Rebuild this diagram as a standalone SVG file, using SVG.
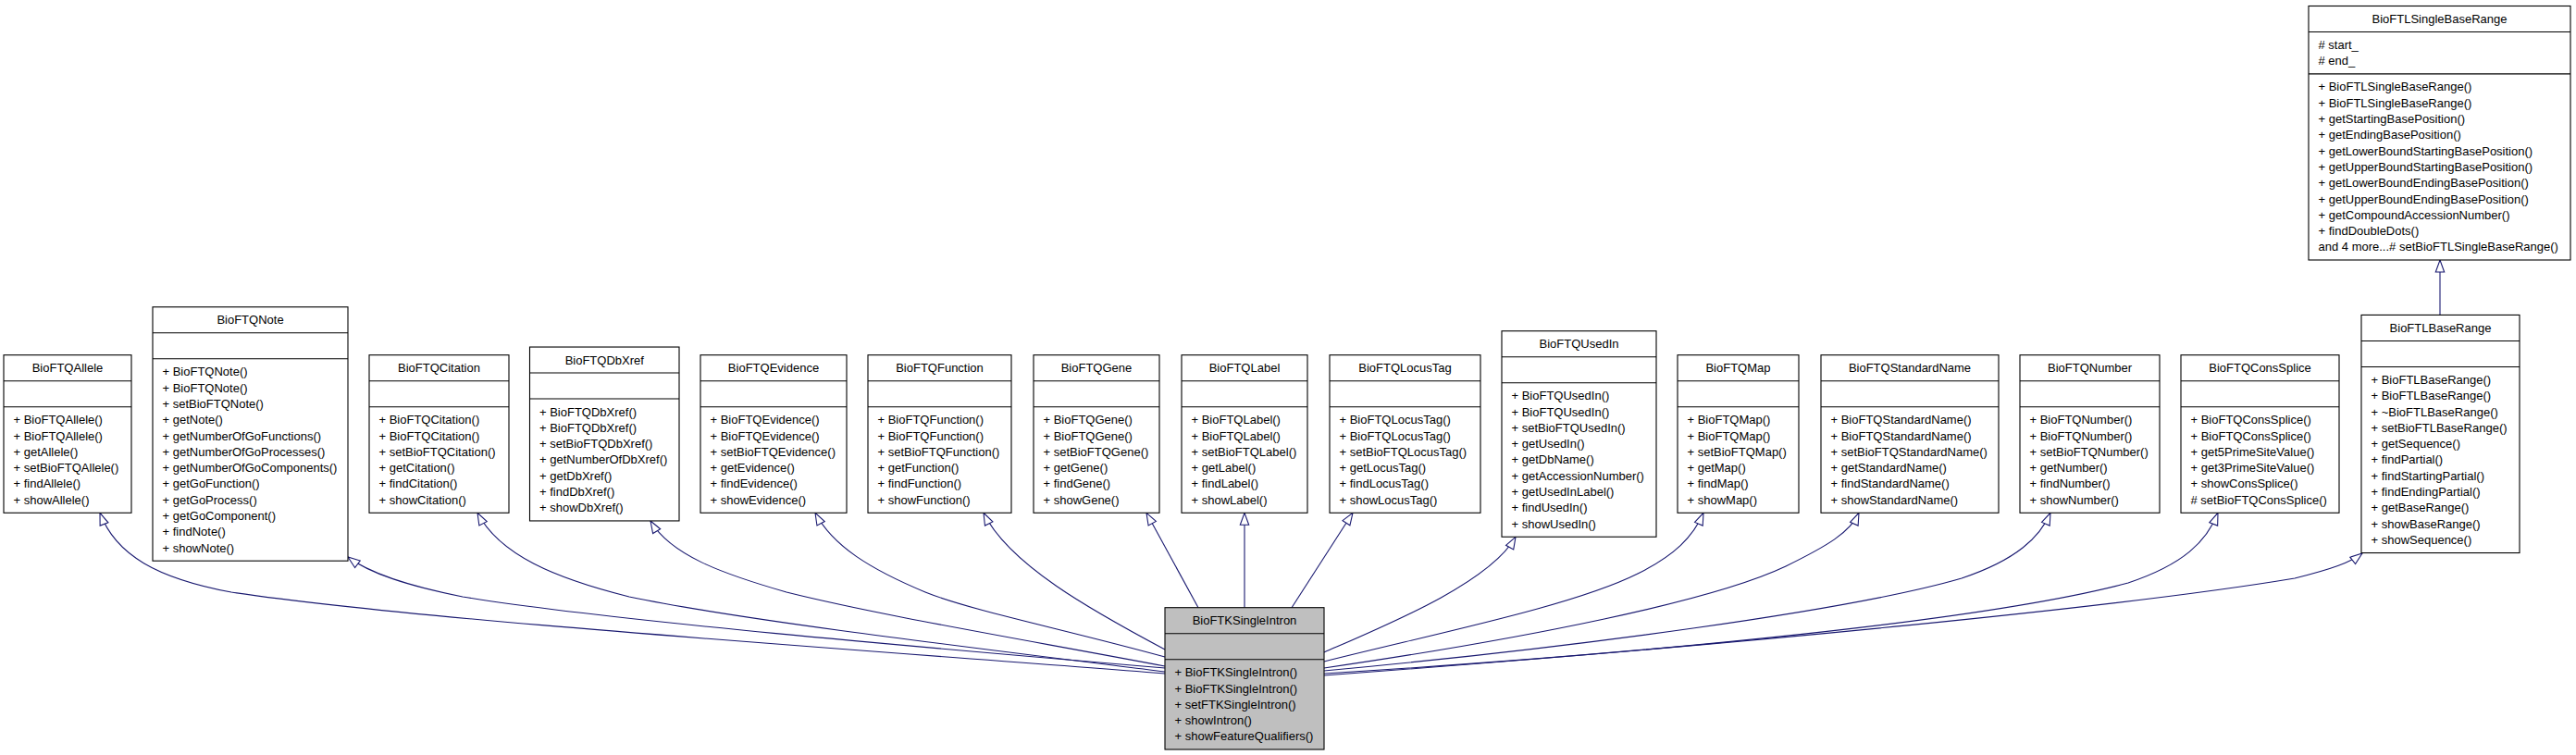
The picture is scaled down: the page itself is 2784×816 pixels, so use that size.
<svg xmlns="http://www.w3.org/2000/svg" width="2784" height="816" viewBox="0 0 2784 816">
<style>
rect.b{fill:#fff;stroke:#000;stroke-width:1.1}
rect.g{fill:#bfbfbf;stroke:#000;stroke-width:1.1}
path.s{stroke:#000;stroke-width:1.1;fill:none}
text{font-family:"Liberation Sans",Arial,Helvetica,sans-serif;font-size:13px;fill:#000}
text.t{text-anchor:middle}
#edges path{fill:none;stroke:#191970;stroke-width:1.1;marker-end:url(#tri)}
</style>
<defs>
<marker id="tri" markerUnits="userSpaceOnUse" markerWidth="16" markerHeight="12" refX="14" refY="6" orient="auto" viewBox="0 0 16 12" style="overflow:visible">
<path d="M1,1.3 L14,6 L1,10.7 Z" fill="#fff" stroke="#191970" stroke-width="1.1"/>
</marker>
</defs>
<rect width="2784" height="816" fill="#fff"/>

<g id="edges">
<path d="M1259,728 C900,700 450,670 250,640 C170,625 125,600 108,554.3"/>
<path d="M1259,722 C1000,700 650,670 500,645 C440,633 400,620 376,602"/>
<path d="M1259,726 C1050,700 800,670 680,645 C600,625 540,600 516,554.3"/>
<path d="M1259,720 C1100,690 950,665 850,640 C780,620 725,600 703,563"/>
<path d="M1259,710 C1150,680 1050,660 1000,640 C940,615 900,590 881,554.3"/>
<path d="M1259,702 C1180,660 1090,610 1063,554.3"/>
<path d="M1295,656.7 L1239,554.3"/>
<path d="M1345,656.7 L1345,554.3"/>
<path d="M1396,656.7 L1462,554.3"/>
<path d="M1431,705 C1500,675 1610,630 1638,580.3"/>
<path d="M1431,715 C1550,685 1700,655 1770,620 C1810,600 1830,580 1841,554.3"/>
<path d="M1431,722 C1650,690 1850,650 1930,612 C1975,590 2000,575 2009,554.3"/>
<path d="M1431,725 C1700,700 2000,660 2120,625 C2180,605 2205,580 2216,554.3"/>
<path d="M1431,728 C1800,705 2150,670 2300,630 C2360,610 2385,585 2397,554.3"/>
<path d="M1431,730 C1900,695 2300,655 2480,625 C2520,615 2540,608 2553,598"/>
<path d="M2637,340.5 L2637,281"/>
</g>

<g id="BioFTQAllele">
<rect class="b" x="4" y="383.7" width="138" height="170.6"/>
<path class="s" d="M4,411.7 H142 M4,439.7 H142"/>
<text class="t" x="73" y="402.2">BioFTQAllele</text>
<text x="14.5" y="458.2">+ BioFTQAllele()</text>
<text x="14.5" y="475.5">+ BioFTQAllele()</text>
<text x="14.5" y="492.8">+ getAllele()</text>
<text x="14.5" y="510.1">+ setBioFTQAllele()</text>
<text x="14.5" y="527.4">+ findAllele()</text>
<text x="14.5" y="544.7">+ showAllele()</text>
</g>

<g id="BioFTQNote">
<rect class="b" x="165" y="331.8" width="211" height="274.4"/>
<path class="s" d="M165,359.8 H376 M165,387.8 H376"/>
<text class="t" x="270.5" y="350.3">BioFTQNote</text>
<text x="175.5" y="406.3">+ BioFTQNote()</text>
<text x="175.5" y="423.6">+ BioFTQNote()</text>
<text x="175.5" y="440.9">+ setBioFTQNote()</text>
<text x="175.5" y="458.2">+ getNote()</text>
<text x="175.5" y="475.5">+ getNumberOfGoFunctions()</text>
<text x="175.5" y="492.8">+ getNumberOfGoProcesses()</text>
<text x="175.5" y="510.1">+ getNumberOfGoComponents()</text>
<text x="175.5" y="527.4">+ getGoFunction()</text>
<text x="175.5" y="544.7">+ getGoProcess()</text>
<text x="175.5" y="562.0">+ getGoComponent()</text>
<text x="175.5" y="579.3">+ findNote()</text>
<text x="175.5" y="596.6">+ showNote()</text>
</g>

<g id="BioFTQCitation">
<rect class="b" x="399" y="383.7" width="151" height="170.6"/>
<path class="s" d="M399,411.7 H550 M399,439.7 H550"/>
<text class="t" x="474.5" y="402.2">BioFTQCitation</text>
<text x="409.5" y="458.2">+ BioFTQCitation()</text>
<text x="409.5" y="475.5">+ BioFTQCitation()</text>
<text x="409.5" y="492.8">+ setBioFTQCitation()</text>
<text x="409.5" y="510.1">+ getCitation()</text>
<text x="409.5" y="527.4">+ findCitation()</text>
<text x="409.5" y="544.7">+ showCitation()</text>
</g>

<g id="BioFTQDbXref">
<rect class="b" x="572.5" y="375.05" width="161.5" height="187.9"/>
<path class="s" d="M572.5,403.05 H734 M572.5,431.05 H734"/>
<text class="t" x="653.25" y="393.55">BioFTQDbXref</text>
<text x="583" y="449.55">+ BioFTQDbXref()</text>
<text x="583" y="466.85">+ BioFTQDbXref()</text>
<text x="583" y="484.15">+ setBioFTQDbXref()</text>
<text x="583" y="501.45">+ getNumberOfDbXref()</text>
<text x="583" y="518.75">+ getDbXref()</text>
<text x="583" y="536.05">+ findDbXref()</text>
<text x="583" y="553.35">+ showDbXref()</text>
</g>

<g id="BioFTQEvidence">
<rect class="b" x="757" y="383.7" width="158" height="170.6"/>
<path class="s" d="M757,411.7 H915 M757,439.7 H915"/>
<text class="t" x="836" y="402.2">BioFTQEvidence</text>
<text x="767.5" y="458.2">+ BioFTQEvidence()</text>
<text x="767.5" y="475.5">+ BioFTQEvidence()</text>
<text x="767.5" y="492.8">+ setBioFTQEvidence()</text>
<text x="767.5" y="510.1">+ getEvidence()</text>
<text x="767.5" y="527.4">+ findEvidence()</text>
<text x="767.5" y="544.7">+ showEvidence()</text>
</g>

<g id="BioFTQFunction">
<rect class="b" x="938" y="383.7" width="155" height="170.6"/>
<path class="s" d="M938,411.7 H1093 M938,439.7 H1093"/>
<text class="t" x="1015.5" y="402.2">BioFTQFunction</text>
<text x="948.5" y="458.2">+ BioFTQFunction()</text>
<text x="948.5" y="475.5">+ BioFTQFunction()</text>
<text x="948.5" y="492.8">+ setBioFTQFunction()</text>
<text x="948.5" y="510.1">+ getFunction()</text>
<text x="948.5" y="527.4">+ findFunction()</text>
<text x="948.5" y="544.7">+ showFunction()</text>
</g>

<g id="BioFTQGene">
<rect class="b" x="1117" y="383.7" width="136" height="170.6"/>
<path class="s" d="M1117,411.7 H1253 M1117,439.7 H1253"/>
<text class="t" x="1185" y="402.2">BioFTQGene</text>
<text x="1127.5" y="458.2">+ BioFTQGene()</text>
<text x="1127.5" y="475.5">+ BioFTQGene()</text>
<text x="1127.5" y="492.8">+ setBioFTQGene()</text>
<text x="1127.5" y="510.1">+ getGene()</text>
<text x="1127.5" y="527.4">+ findGene()</text>
<text x="1127.5" y="544.7">+ showGene()</text>
</g>

<g id="BioFTQLabel">
<rect class="b" x="1277" y="383.7" width="136" height="170.6"/>
<path class="s" d="M1277,411.7 H1413 M1277,439.7 H1413"/>
<text class="t" x="1345" y="402.2">BioFTQLabel</text>
<text x="1287.5" y="458.2">+ BioFTQLabel()</text>
<text x="1287.5" y="475.5">+ BioFTQLabel()</text>
<text x="1287.5" y="492.8">+ setBioFTQLabel()</text>
<text x="1287.5" y="510.1">+ getLabel()</text>
<text x="1287.5" y="527.4">+ findLabel()</text>
<text x="1287.5" y="544.7">+ showLabel()</text>
</g>

<g id="BioFTQLocusTag">
<rect class="b" x="1437" y="383.7" width="163" height="170.6"/>
<path class="s" d="M1437,411.7 H1600 M1437,439.7 H1600"/>
<text class="t" x="1518.5" y="402.2">BioFTQLocusTag</text>
<text x="1447.5" y="458.2">+ BioFTQLocusTag()</text>
<text x="1447.5" y="475.5">+ BioFTQLocusTag()</text>
<text x="1447.5" y="492.8">+ setBioFTQLocusTag()</text>
<text x="1447.5" y="510.1">+ getLocusTag()</text>
<text x="1447.5" y="527.4">+ findLocusTag()</text>
<text x="1447.5" y="544.7">+ showLocusTag()</text>
</g>

<g id="BioFTQUsedIn">
<rect class="b" x="1623" y="357.75" width="167" height="222.5"/>
<path class="s" d="M1623,385.75 H1790 M1623,413.75 H1790"/>
<text class="t" x="1706.5" y="376.25">BioFTQUsedIn</text>
<text x="1633.5" y="432.25">+ BioFTQUsedIn()</text>
<text x="1633.5" y="449.55">+ BioFTQUsedIn()</text>
<text x="1633.5" y="466.85">+ setBioFTQUsedIn()</text>
<text x="1633.5" y="484.15">+ getUsedIn()</text>
<text x="1633.5" y="501.45">+ getDbName()</text>
<text x="1633.5" y="518.75">+ getAccessionNumber()</text>
<text x="1633.5" y="536.05">+ getUsedInLabel()</text>
<text x="1633.5" y="553.35">+ findUsedIn()</text>
<text x="1633.5" y="570.65">+ showUsedIn()</text>
</g>

<g id="BioFTQMap">
<rect class="b" x="1813" y="383.7" width="131" height="170.6"/>
<path class="s" d="M1813,411.7 H1944 M1813,439.7 H1944"/>
<text class="t" x="1878.5" y="402.2">BioFTQMap</text>
<text x="1823.5" y="458.2">+ BioFTQMap()</text>
<text x="1823.5" y="475.5">+ BioFTQMap()</text>
<text x="1823.5" y="492.8">+ setBioFTQMap()</text>
<text x="1823.5" y="510.1">+ getMap()</text>
<text x="1823.5" y="527.4">+ findMap()</text>
<text x="1823.5" y="544.7">+ showMap()</text>
</g>

<g id="BioFTQStandardName">
<rect class="b" x="1968" y="383.7" width="192" height="170.6"/>
<path class="s" d="M1968,411.7 H2160 M1968,439.7 H2160"/>
<text class="t" x="2064" y="402.2">BioFTQStandardName</text>
<text x="1978.5" y="458.2">+ BioFTQStandardName()</text>
<text x="1978.5" y="475.5">+ BioFTQStandardName()</text>
<text x="1978.5" y="492.8">+ setBioFTQStandardName()</text>
<text x="1978.5" y="510.1">+ getStandardName()</text>
<text x="1978.5" y="527.4">+ findStandardName()</text>
<text x="1978.5" y="544.7">+ showStandardName()</text>
</g>

<g id="BioFTQNumber">
<rect class="b" x="2183" y="383.7" width="151" height="170.6"/>
<path class="s" d="M2183,411.7 H2334 M2183,439.7 H2334"/>
<text class="t" x="2258.5" y="402.2">BioFTQNumber</text>
<text x="2193.5" y="458.2">+ BioFTQNumber()</text>
<text x="2193.5" y="475.5">+ BioFTQNumber()</text>
<text x="2193.5" y="492.8">+ setBioFTQNumber()</text>
<text x="2193.5" y="510.1">+ getNumber()</text>
<text x="2193.5" y="527.4">+ findNumber()</text>
<text x="2193.5" y="544.7">+ showNumber()</text>
</g>

<g id="BioFTQConsSplice">
<rect class="b" x="2357" y="383.7" width="171" height="170.6"/>
<path class="s" d="M2357,411.7 H2528 M2357,439.7 H2528"/>
<text class="t" x="2442.5" y="402.2">BioFTQConsSplice</text>
<text x="2367.5" y="458.2">+ BioFTQConsSplice()</text>
<text x="2367.5" y="475.5">+ BioFTQConsSplice()</text>
<text x="2367.5" y="492.8">+ get5PrimeSiteValue()</text>
<text x="2367.5" y="510.1">+ get3PrimeSiteValue()</text>
<text x="2367.5" y="527.4">+ showConsSplice()</text>
<text x="2367.5" y="544.7"># setBioFTQConsSplice()</text>
</g>

<g id="BioFTLBaseRange">
<rect class="b" x="2552" y="340.45" width="171" height="257.1"/>
<path class="s" d="M2552,368.45 H2723 M2552,396.45 H2723"/>
<text class="t" x="2637.5" y="358.95">BioFTLBaseRange</text>
<text x="2562.5" y="414.95">+ BioFTLBaseRange()</text>
<text x="2562.5" y="432.25">+ BioFTLBaseRange()</text>
<text x="2562.5" y="449.55">+ ~BioFTLBaseRange()</text>
<text x="2562.5" y="466.85">+ setBioFTLBaseRange()</text>
<text x="2562.5" y="484.15">+ getSequence()</text>
<text x="2562.5" y="501.45">+ findPartial()</text>
<text x="2562.5" y="518.75">+ findStartingPartial()</text>
<text x="2562.5" y="536.05">+ findEndingPartial()</text>
<text x="2562.5" y="553.35">+ getBaseRange()</text>
<text x="2562.5" y="570.65">+ showBaseRange()</text>
<text x="2562.5" y="587.95">+ showSequence()</text>
</g>

<g id="BioFTLSingleBaseRange">
<rect class="b" x="2495" y="6.5" width="283" height="274.5"/>
<path class="s" d="M2495,34.5 H2778 M2495,79.9 H2778"/>
<text class="t" x="2636.5" y="25">BioFTLSingleBaseRange</text>
<text x="2505.5" y="53"># start_</text>
<text x="2505.5" y="70.3"># end_</text>
<text x="2505.5" y="98.4">+ BioFTLSingleBaseRange()</text>
<text x="2505.5" y="115.7">+ BioFTLSingleBaseRange()</text>
<text x="2505.5" y="133.0">+ getStartingBasePosition()</text>
<text x="2505.5" y="150.3">+ getEndingBasePosition()</text>
<text x="2505.5" y="167.6">+ getLowerBoundStartingBasePosition()</text>
<text x="2505.5" y="184.9">+ getUpperBoundStartingBasePosition()</text>
<text x="2505.5" y="202.2">+ getLowerBoundEndingBasePosition()</text>
<text x="2505.5" y="219.5">+ getUpperBoundEndingBasePosition()</text>
<text x="2505.5" y="236.8">+ getCompoundAccessionNumber()</text>
<text x="2505.5" y="254.1">+ findDoubleDots()</text>
<text x="2505.5" y="271.4">and 4 more...# setBioFTLSingleBaseRange()</text>
</g>

<g id="BioFTKSingleIntron">
<rect class="g" x="1259" y="656.7" width="172" height="153.3"/>
<path class="s" d="M1259,684.7 H1431 M1259,712.7 H1431"/>
<text class="t" x="1345" y="675.2">BioFTKSingleIntron</text>
<text x="1269.5" y="731.2">+ BioFTKSingleIntron()</text>
<text x="1269.5" y="748.5">+ BioFTKSingleIntron()</text>
<text x="1269.5" y="765.8">+ setFTKSingleIntron()</text>
<text x="1269.5" y="783.1">+ showIntron()</text>
<text x="1269.5" y="800.4">+ showFeatureQualifiers()</text>
</g>
</svg>
